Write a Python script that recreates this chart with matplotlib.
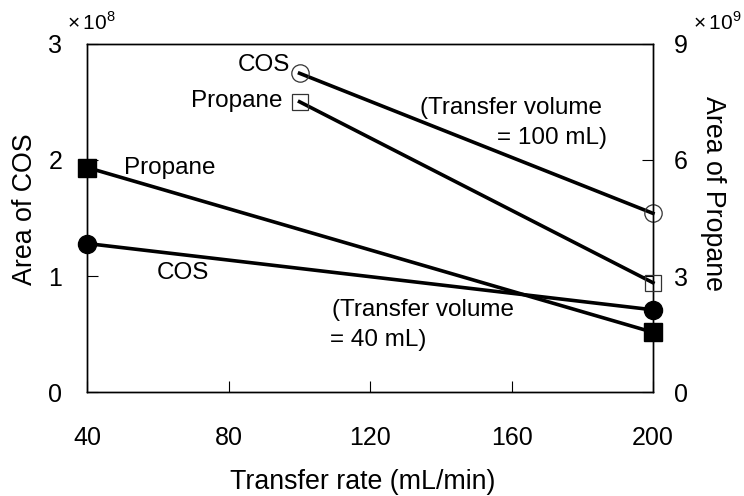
import matplotlib
matplotlib.use("Agg")
import matplotlib.pyplot as plt

# transfer rate (mL/min)
rate_40 = [40, 200]
rate_100 = [100, 200]
# COS area (x1e8), propane area (x1e9)
cos_40 = [1.28, 0.71]
propane_40 = [5.8, 1.55]
cos_100 = [2.745, 1.54]
propane_100 = [7.5, 2.83]

plt.rcParams["font.family"] = ["Liberation Sans", "DejaVu Sans"]
plt.rcParams["mathtext.fontset"] = "custom"
plt.rcParams["mathtext.rm"] = "Liberation Sans"

TICK_FS = 18
LABEL_FS = 19.3
NOTE_FS = 17.5

fig = plt.figure(figsize=(7.44, 4.96), dpi=100)
ax = fig.add_axes([0.1176, 0.209, 0.760, 0.703])
ax2 = ax.twinx()

lw = 2.6
ax.plot(rate_40, cos_40, color="black", lw=lw, marker="o", ms=13,
        mfc="black", mec="black", zorder=3, clip_on=False)
ax.plot(rate_100, cos_100, color="black", lw=lw, marker="o", ms=12.5,
        mfc="none", mec="#333333", mew=0.9, zorder=3, clip_on=False)
ax2.plot(rate_40, propane_40, color="black", lw=lw, marker="s", ms=13,
         mfc="black", mec="black", zorder=3, clip_on=False)
ax2.plot(rate_100, propane_100, color="black", lw=lw, marker="s", ms=12,
         mfc="none", mec="#333333", mew=0.9, zorder=3, clip_on=False)

ax.set_xlim(40, 200)
ax.set_ylim(0, 3)
ax2.set_ylim(0, 9)
ax.set_xticks([40, 80, 120, 160, 200])
ax.set_yticks([0, 1, 2, 3])
ax2.set_yticks([0, 3, 6, 9])

ax.tick_params(axis="x", direction="in", length=8, pad=24, labelsize=TICK_FS)
ax.tick_params(axis="y", direction="in", length=8, pad=18, labelsize=TICK_FS)
ax2.tick_params(axis="y", direction="in", length=8, pad=15, labelsize=TICK_FS)
for a in (ax, ax2):
    for s in a.spines.values():
        s.set_linewidth(1.0)

ax.set_xlabel("Transfer rate (mL/min)", fontsize=LABEL_FS)
ax.xaxis.set_label_coords(0.486, -0.219)
ax.set_ylabel("Area of COS", fontsize=LABEL_FS)
ax.yaxis.set_label_coords(-0.087, 0.526)
ax2.set_ylabel("Area of Propane", fontsize=LABEL_FS, rotation=-90)
ax2.yaxis.set_label_coords(1.129, 0.570)

fig.text(0.09, 0.931, r"$\times\,$10$^{8}$", fontsize=15, ha="left", va="bottom")
fig.text(0.931, 0.931, r"$\times\,$10$^{9}$", fontsize=15, ha="left", va="bottom")

ax.text(97.3, 2.82, "COS", fontsize=NOTE_FS, ha="right", va="center")
ax.text(95.3, 2.507, "Propane", fontsize=NOTE_FS, ha="right", va="center")
ax.text(50.3, 1.93, "Propane", fontsize=NOTE_FS, ha="left", va="center")
ax.text(59.7, 1.027, "COS", fontsize=NOTE_FS, ha="left", va="center")
ax.text(134.1, 2.447, "(Transfer volume", fontsize=NOTE_FS, ha="left", va="center")
ax.text(187, 2.19, "= 100 mL)", fontsize=NOTE_FS, ha="right", va="center")
ax.text(109.2, 0.708, "(Transfer volume", fontsize=NOTE_FS, ha="left", va="center")
ax.text(108.6, 0.45, "= 40 mL)", fontsize=NOTE_FS, ha="left", va="center")

fig.savefig("out.png", dpi=100)
